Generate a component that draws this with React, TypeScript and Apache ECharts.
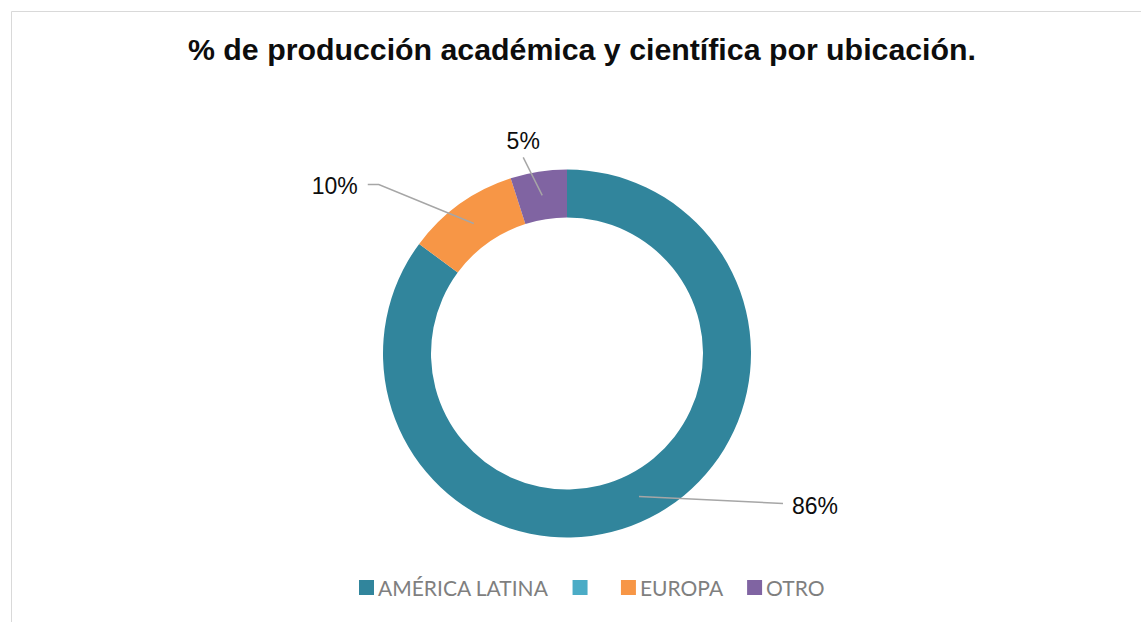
import React, { useEffect, useRef } from "react";
import * as echarts from "echarts";

const titleText = "% de producción académica y científica por ubicación.";
const categories = ["AMÉRICA LATINA", " ", "EUROPA", "OTRO"];
const values = [86, 0, 10, 5];
const colors = ["#31859C", "#4BACC6", "#F79646", "#8064A2"];

const CX = 567;
const CY = 353.5;
const R_IN = 136;
const R_OUT = 184;
const R_GUIDE = (R_IN + R_OUT) / 2;

// label guide offsets relative to the leader line start point (style / layout only)
const guides: Record<number, { line: number[][]; label: number[]; align: string }> = {
  0: { line: [[0, 0], [144, 7]], label: [153, 10], align: "left" },
  2: { line: [[0, 0], [-95, -39], [-106, -39]], label: [-116, -37], align: "right" },
  3: { line: [[0, 0], [-19, -38]], label: [-19, -54], align: "center" },
};

function midPoint(index: number): number[] {
  const total = values.reduce((a, b) => a + b, 0);
  let before = 0;
  for (let i = 0; i < index; i++) before += values[i];
  const frac = (before + values[index] / 2) / total;
  const ang = frac * Math.PI * 2; // clockwise from top
  return [CX + Math.sin(ang) * R_GUIDE, CY - Math.cos(ang) * R_GUIDE];
}

export default function App() {
  const ref = useRef<HTMLDivElement>(null);
  useEffect(() => {
    document.body.style.margin = "0";
    const chart = echarts.init(ref.current!, null, { renderer: "svg" });
    const data = categories.map((name, i) => ({
      name,
      value: values[i],
      itemStyle: { color: colors[i] },
    }));
    const overlayData = categories.map((name, i) => ({
      name,
      value: values[i],
      label: { show: values[i] > 0 },
      labelLine: { show: values[i] > 0 },
    }));
    chart.setOption({
      animation: false,
      backgroundColor: "#ffffff",
      title: {
        text: titleText,
        left: 183,
        top: 29,
        padding: 5,
        textStyle: {
          fontFamily: "Liberation Sans, Arial, sans-serif",
          fontWeight: "bold",
          fontSize: 30.3,
          color: "#0D0D0D",
        },
      },
      legend: {
        data: categories,
        left: 359,
        top: 577,
        padding: 0,
        itemWidth: 15,
        itemHeight: 15,
        itemGap: 24,
        icon: "rect",
        selectedMode: false,
        textStyle: {
          fontFamily: "Lato, sans-serif",
          fontSize: 21,
          color: "#7F7F7F",
          padding: [0, 0, 0, -1],
        },
      },
      graphic: [
        {
          type: "rect",
          silent: true,
          shape: { x: 11.5, y: 11.5, width: 1300, height: 800 },
          style: { fill: "none", stroke: "#D9D9D9", lineWidth: 1 },
        },
      ],
      series: [
        {
          type: "pie",
          z: 2,
          center: [CX, CY],
          radius: [R_IN, R_OUT],
          startAngle: 90,
          clockwise: true,
          silent: true,
          label: { show: false },
          labelLine: { show: false },
          data,
        },
        {
          type: "pie",
          z: 5,
          center: [CX, CY],
          radius: [0, R_GUIDE],
          startAngle: 90,
          clockwise: true,
          silent: true,
          avoidLabelOverlap: false,
          itemStyle: { color: "rgba(0,0,0,0)" },
          label: {
            show: true,
            position: "outside",
            formatter: (p: any) => `${p.value}%`,
            fontFamily: "Liberation Sans, Arial, sans-serif",
            fontSize: 23,
            color: "#0D0D0D",
          },
          labelLine: {
            show: true,
            length: 10,
            length2: 20,
            lineStyle: { color: "#A6A6A6", width: 1.5 },
          },
          labelLayout: (p: any) => {
            const g = guides[p.dataIndex];
            if (!g) return {};
            const [sx, sy] = midPoint(p.dataIndex);
            return {
              x: sx + g.label[0],
              y: sy + g.label[1],
              align: g.align,
              verticalAlign: "middle",
              labelLinePoints: g.line.map(([dx, dy]) => [sx + dx, sy + dy]),
            };
          },
          data: overlayData,
        },
      ],
    });
    return () => chart.dispose();
  }, []);
  return <div ref={ref} style={{ width: 1141, height: 622 }} />;
}
